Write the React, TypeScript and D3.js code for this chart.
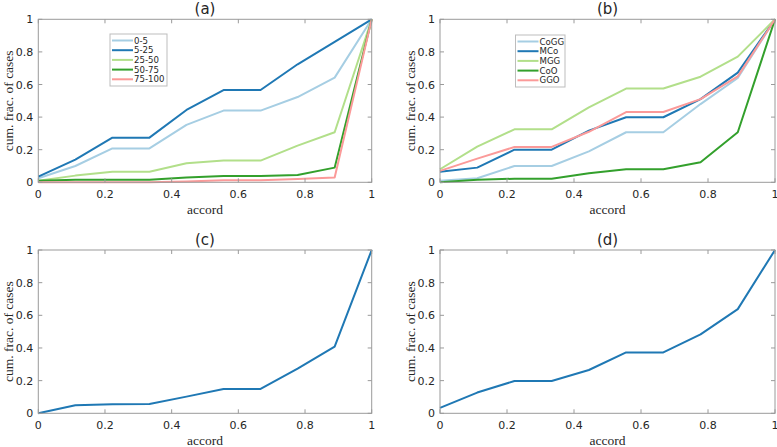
import React from "react";
import * as d3 from "d3";

const xs = [0, 1 / 9, 2 / 9, 3 / 9, 4 / 9, 5 / 9, 6 / 9, 7 / 9, 8 / 9, 1];
const xTicks = [0, 0.2, 0.4, 0.6, 0.8, 1];
const yTicks = [0, 0.2, 0.4, 0.6, 0.8, 1];

const namesA = ["0-5", "5-25", "25-50", "50-75", "75-100"];
const a05 = [0.025, 0.1, 0.208, 0.208, 0.352, 0.44, 0.44, 0.523, 0.642, 1];
const a525 = [0.035, 0.139, 0.274, 0.274, 0.444, 0.566, 0.566, 0.724, 0.862, 1];
const a2550 = [0.01, 0.041, 0.065, 0.065, 0.117, 0.133, 0.133, 0.225, 0.307, 1];
const a5075 = [0.01, 0.015, 0.015, 0.015, 0.03, 0.038, 0.038, 0.045, 0.09, 1];
const a75100 = [0, 0, 0, 0, 0.005, 0.012, 0.012, 0.02, 0.03, 1];

const namesB = ["CoGG", "MCo", "MGG", "CoO", "GGO"];
const bCoGG = [0.01, 0.025, 0.1, 0.1, 0.19, 0.307, 0.307, 0.48, 0.64, 1];
const bMCo = [0.065, 0.09, 0.2, 0.2, 0.317, 0.399, 0.399, 0.51, 0.673, 1];
const bMGG = [0.08, 0.219, 0.325, 0.325, 0.46, 0.575, 0.575, 0.648, 0.771, 1];
const bCoO = [0, 0.015, 0.022, 0.022, 0.055, 0.08, 0.08, 0.123, 0.307, 1];
const bGGO = [0.07, 0.145, 0.217, 0.217, 0.31, 0.431, 0.431, 0.51, 0.65, 1];

const cVals = [0, 0.049, 0.056, 0.057, 0.102, 0.149, 0.149, 0.273, 0.408, 1];
const dVals = [0.033, 0.127, 0.198, 0.198, 0.265, 0.373, 0.373, 0.483, 0.638, 1];

const colors = ["#a6cee3", "#1f78b4", "#b2df8a", "#33a02c", "#fb9a99"];

type Panel = {
  title: string;
  x0: number; x1: number; y0: number; y1: number;
  series: number[][];
  names?: string[];
  legend?: { x: number; y: number; w: number };
  cols: string[];
};

const panels: Panel[] = [
  { title: "(a)", x0: 38.3, x1: 371.7, y0: 182.3, y1: 19.3, series: [a05, a525, a2550, a5075, a75100], names: namesA, legend: { x: 110, y: 34, w: 57 }, cols: colors },
  { title: "(b)", x0: 440, x1: 775, y0: 182.3, y1: 19.3, series: [bCoGG, bMCo, bMGG, bCoO, bGGO], names: namesB, legend: { x: 515.5, y: 35, w: 49.5 }, cols: colors },
  { title: "(c)", x0: 38.3, x1: 371.7, y0: 413.3, y1: 250, series: [cVals], cols: ["#1f78b4"] },
  { title: "(d)", x0: 440, x1: 775, y0: 413.3, y1: 250, series: [dVals], cols: ["#1f78b4"] },
];

const sans = "DejaVu Sans, sans-serif";
const serif = "Liberation Serif, Times New Roman, serif";

function PanelView({ p }: { p: Panel }) {
  const x = d3.scaleLinear().domain([0, 1]).range([p.x0, p.x1]);
  const y = d3.scaleLinear().domain([0, 1]).range([p.y0, p.y1]);
  const line = d3.line<number>().x((_, i) => x(xs[i])).y((v) => y(v));
  const axisCol = "#9a9a9a";
  const tl = 4;
  const lg = p.legend;
  return (
    <g>
      {p.series.map((s, i) => (
        <path key={i} d={line(s) || ""} fill="none" stroke={p.cols[i]} strokeWidth={2} strokeLinejoin="round" />
      ))}
      <rect x={p.x0} y={p.y1} width={p.x1 - p.x0} height={p.y0 - p.y1} fill="none" stroke={axisCol} strokeWidth={1} />
      {xTicks.map((t) => (
        <g key={"x" + t}>
          <line x1={x(t)} x2={x(t)} y1={p.y0} y2={p.y0 - tl} stroke={axisCol} />
          <line x1={x(t)} x2={x(t)} y1={p.y1} y2={p.y1 + tl} stroke={axisCol} />
          <text x={x(t)} y={p.y0 + 15.5} textAnchor="middle" fontFamily={sans} fontSize={11} fill="#262626">{d3.format("~g")(t)}</text>
        </g>
      ))}
      {yTicks.map((t) => (
        <g key={"y" + t}>
          <line x1={p.x0} x2={p.x0 + tl} y1={y(t)} y2={y(t)} stroke={axisCol} />
          <line x1={p.x1} x2={p.x1 - tl} y1={y(t)} y2={y(t)} stroke={axisCol} />
          <text x={p.x0 - 5} y={y(t) + 4} textAnchor="end" fontFamily={sans} fontSize={11} fill="#262626">{d3.format("~g")(t)}</text>
        </g>
      ))}
      <text x={(p.x0 + p.x1) / 2} y={p.y1 - 5} textAnchor="middle" fontFamily={sans} fontSize={15} fill="#262626">{p.title}</text>
      <text x={(p.x0 + p.x1) / 2} y={p.y0 + 31.5} textAnchor="middle" fontFamily={serif} fontSize={13.5} fill="#262626">accord</text>
      <text transform={`translate(${p.x0 - 25.5},${(p.y0 + p.y1) / 2}) rotate(-90)`} textAnchor="middle" fontFamily={serif} fontSize={13.5} fill="#262626">cum. frac. of cases</text>
      {lg && p.names && (
        <g>
          <rect x={lg.x} y={lg.y} width={lg.w} height={52} fill="white" stroke="#bdbdbd" strokeWidth={1} />
          {p.names.map((n, i) => (
            <g key={n}>
              <line x1={lg.x + 2} x2={lg.x + 23} y1={lg.y + 6.5 + i * 9.7} y2={lg.y + 6.5 + i * 9.7} stroke={p.cols[i]} strokeWidth={2} />
              <text x={lg.x + 24} y={lg.y + 9.6 + i * 9.7} fontFamily={sans} fontSize={8.6} fill="#262626">{n}</text>
            </g>
          ))}
        </g>
      )}
    </g>
  );
}

export default function App() {
  return (
    <svg width={777} height={447} style={{ position: "absolute", left: 0, top: 0, background: "white" }}>
      <rect width={777} height={447} fill="white" />
      {panels.map((p) => (
        <PanelView key={p.title} p={p} />
      ))}
    </svg>
  );
}
